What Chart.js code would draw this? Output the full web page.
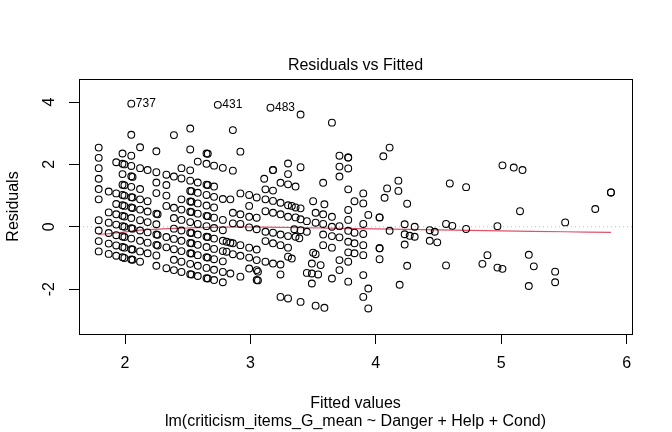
<!DOCTYPE html>
<html>
<head>
<meta charset="utf-8">
<script src="https://cdn.jsdelivr.net/npm/chart.js@4"></script>
<style>
  html, body { margin: 0; padding: 0; background: #fff; }
  #chart { display: block; }
</style>
</head>
<body>
<canvas id="chart" width="672" height="432"></canvas>
<script>
// fitted value of each column of points, and the residuals seen in that column
const colFitted = [
  1.79, 1.87, 1.93, 1.98, 1.995, 2.05, 2.06, 2.12, 2.18, 2.25, 2.26, 2.33, 2.39, 2.45,
  2.52, 2.53, 2.58, 2.65, 2.66, 2.71, 2.74, 2.78, 2.81, 2.84, 2.86, 2.92, 2.99, 3.05,
  3.06, 3.11, 3.12, 3.16, 3.18, 3.24, 3.30, 3.33, 3.35, 3.36, 3.39, 3.40, 3.45, 3.49,
  3.50, 3.52, 3.54, 3.56, 3.58, 3.59, 3.65, 3.71, 3.78, 3.83, 3.90, 3.94, 4.03, 4.06,
  4.07, 4.09, 4.11, 4.18, 4.19, 4.23, 4.25, 4.27, 4.31, 4.43, 4.47, 4.49, 4.56, 4.59,
  4.61, 4.72, 4.85, 4.89, 4.97, 5.01, 5.10, 5.15, 5.17, 5.22, 5.26, 5.43, 5.51, 5.75,
  5.875
];
const colResid = [
  [2.54, 2.21, 1.88, 1.54, 1.21, 0.88, 0.21, -0.12, -0.46, -0.79],
  [1.13, 0.46, 0.13, -0.20, -0.54, -0.87],
  [2.07, 1.07, 0.73, 0.40, 0.07, -0.27, -0.60, -0.93],
  [2.35, 2.02, 1.69, 1.35, 1.02, 0.69, 0.35, 0.02, -0.31, -0.65, -0.98],
  [2.00, 1.33, 1.00, 0.67, 0.33, 0.00, -0.33, -0.67, -1.00],
  [3.95, 2.95, 2.28, 1.95, 1.62, 1.28, 0.95, 0.62, 0.28, -0.05, -0.38, -0.72, -1.05],
  [1.60, 0.94, 0.60, -0.06, -0.73, -1.06],
  [2.55, 1.88, 1.21, 0.88, 0.55, 0.21, -0.12, -0.45, -0.79, -1.12],
  [1.82, 0.82, 0.49, 0.15, -0.18, -0.51, -0.85],
  [2.42, 1.75, 1.42, 1.08, 0.42, 0.08, -0.25, -0.58, -0.92, -1.25],
  [0.40, -0.26, -0.60],
  [1.67, 1.34, 1.00, 0.67, -0.33, -0.66, -1.33],
  [2.94, 1.61, 0.61, 0.28, -0.06, -0.39, -0.72, -1.06, -1.39],
  [1.88, 1.55, 0.88, 0.55, 0.22, -0.12, -0.45, -0.78, -1.12, -1.45],
  [3.15, 2.48, 1.81, 1.48, 1.15, 0.81, 0.48, 0.15, -0.19, -0.52, -0.85, -1.19, -1.52],
  [1.14, 0.80, 0.47, -0.20, -0.53, -0.86, -1.53],
  [2.09, 1.42, 1.09, 0.75, 0.42, 0.09, -0.25, -0.58, -0.91, -1.25, -1.58],
  [2.35, 2.02, 1.35, 1.02, 0.68, 0.35, 0.02, -0.32, -0.65, -0.98, -1.32, -1.65],
  [2.34, 1.34, 0.34, -0.33, -0.99, -1.66],
  [1.96, 1.29, 0.96, 0.62, 0.29, -0.04, -0.38, -0.71, -1.04, -1.38, -1.71],
  [3.91],
  [1.89, 0.89, 0.22, -0.11, -0.45, -0.78, -1.11, -1.45, -1.78],
  [-0.48, -0.80],
  [0.88, -0.51, -1.50],
  [3.10, 1.80, 0.45, 0.11, -0.53, -0.88],
  [2.41, 1.07, 0.40, 0.09, -0.59, -0.93, -1.60],
  [1.02, 0.67, 0.32, -0.02, -0.67, -0.99, -1.34],
  [0.94, 0.29, -0.08, -0.73, -1.07, -1.39, -1.71],
  [-1.44, -1.72],
  [1.54],
  [1.20, 0.88, 0.50, -0.16, -0.46, -1.12],
  [3.82],
  [1.82, 1.82, 1.16, 0.83, 0.45, -0.19, -0.53, -1.18],
  [1.41, 0.77, 0.40, -0.25, -0.59, -1.21, -1.53, -2.25],
  [2.03, 1.69, 1.36, 0.69, 0.32, -0.30, -0.67, -0.96, -2.30],
  [0.67, -1.02],
  [-0.08],
  [1.29, 0.62, 0.30, -0.32],
  [-0.37],
  [3.60, 1.91, 0.59, 0.24, -0.11, -2.41],
  [0.18, -0.16, -1.48],
  [-1.18, -1.50, -1.82],
  [0.82, -0.83],
  [0.45, 0.13, -0.88, -2.53],
  [-1.53],
  [-1.23],
  [1.41, 0.40, 0.09, -0.25, -0.59],
  [-2.60, 0.72],
  [3.34, 0.32, 0.00, -0.30, -0.67, -1.66],
  [2.28, 1.93, 1.61, 0.02, -0.34, -1.07, -1.39],
  [2.22, 2.22, 1.87, 1.20, 0.54, 0.22, -0.13, -0.48, -0.82, -1.12, -1.76],
  [0.82, -0.19, -0.53, -0.85],
  [1.07, 0.75, 0.09, -0.23, -0.59, -0.91, -1.55, -2.25],
  [0.38, -1.98, -2.62],
  [0.30, 0.30, -0.69, -0.69, -1.04],
  [2.26],
  [0.93],
  [1.23],
  [2.54, -0.13],
  [1.48, 1.15],
  [-1.86],
  [0.08, -0.24, -0.57],
  [0.74, -1.25],
  [-0.29],
  [0.00, -0.32],
  [-0.11, -0.45],
  [-0.16],
  [-0.50],
  [0.09, -1.24],
  [1.39],
  [0.03],
  [1.27, -0.07],
  [-1.19],
  [-0.91],
  [0.02, -1.31],
  [1.97, -1.35],
  [1.90],
  [0.50],
  [1.82],
  [-0.90, -1.90],
  [-1.27],
  [-1.44, -1.78],
  [0.14],
  [0.57],
  [1.10, 1.10]
];

// red smoother
const smoothFitted = [1.79, 1.95, 2.12, 2.3, 2.5, 2.8, 3.1, 3.4, 3.7, 4.0, 4.5, 5.0, 5.5, 5.875];
const smoothResid = [-0.25, -0.19, -0.11, -0.07, -0.04, -0.01, -0.01, -0.03, -0.05, -0.07, -0.10, -0.13, -0.16, -0.18];

// labelled extreme points
const idText = ["737", "431", "483"];
const idFitted = [2.05, 2.74, 3.16];
const idResid = [3.95, 3.91, 3.82];

const xTicks = [2, 3, 4, 5, 6];
const yTicks = [-2, 0, 2, 4];
const xRange = [1.633, 6.043];
const yRange = [-3.44, 4.74];

const title = "Residuals vs Fitted";
const xTitle = "Fitted values";
const subTitle = "lm(criticism_items_G_mean ~ Danger + Help + Cond)";
const yTitle = "Residuals";

const FONT = '"Liberation Sans", Arial, Helvetica, sans-serif';

const points = colFitted.flatMap((x, i) => colResid[i].map(r => ({ x: x, y: r })));
const smooth = smoothFitted.map((x, i) => ({ x: x, y: smoothResid[i] }));
const zeroLine = xRange.map(x => ({ x: x, y: 0 }));

const rPlot = {
  id: "rPlot",
  afterDraw(chart) {
    const { ctx, chartArea: a, scales } = chart;
    const xs = scales.x, ys = scales.y;
    ctx.save();
    // box
    ctx.strokeStyle = "#000";
    ctx.lineWidth = 1;
    ctx.strokeRect(a.left + 0.5, a.top + 0.5, a.right - a.left, a.bottom - a.top);
    ctx.fillStyle = "#000";
    ctx.font = "16px " + FONT;
    ctx.textAlign = "center";
    ctx.textBaseline = "middle";
    // x tick labels
    xTicks.forEach(v => ctx.fillText(String(v), xs.getPixelForValue(v), 364));
    // y tick labels, rotated like R
    yTicks.forEach(v => {
      ctx.save();
      ctx.translate(50, ys.getPixelForValue(v));
      ctx.rotate(-Math.PI / 2);
      ctx.fillText(String(v), 0, 0);
      ctx.restore();
    });
    const cx = (a.left + a.right) / 2;
    ctx.fillText(title, cx, 66);
    ctx.fillText(xTitle, cx, 404);
    ctx.fillText(subTitle, cx, 422);
    ctx.save();
    ctx.translate(14, (a.top + a.bottom) / 2);
    ctx.rotate(-Math.PI / 2);
    ctx.fillText(yTitle, 0, 0);
    ctx.restore();
    // id labels
    ctx.font = "12px " + FONT;
    ctx.textAlign = "left";
    idText.forEach((t, i) => {
      ctx.fillText(t, xs.getPixelForValue(idFitted[i]) + 4.5, ys.getPixelForValue(idResid[i]));
    });
    ctx.restore();
  }
};

new Chart(document.getElementById("chart"), {
  type: "scatter",
  data: {
    datasets: [
      {
        data: points,
        pointStyle: "circle",
        pointRadius: 3.4,
        pointBorderWidth: 1.1,
        pointBorderColor: "#000",
        pointBackgroundColor: "rgba(0,0,0,0)",
        showLine: false
      },
      {
        type: "line",
        data: smooth,
        borderColor: "#DF536B",
        borderWidth: 1.2,
        pointRadius: 0,
        tension: 0.3,
        fill: false
      },
      {
        type: "line",
        data: zeroLine,
        borderColor: "#BEBEBE",
        borderWidth: 1,
        borderDash: [1, 3],
        pointRadius: 0,
        fill: false
      }
    ]
  },
  options: {
    responsive: false,
    animation: false,
    devicePixelRatio: 1,
    layout: { padding: { top: 79, right: 40, left: 0, bottom: 0 } },
    plugins: { legend: { display: false }, tooltip: { enabled: false }, title: { display: false } },
    scales: {
      x: {
        type: "linear",
        min: xRange[0],
        max: xRange[1],
        afterBuildTicks: s => { s.ticks = xTicks.map(v => ({ value: v })); },
        afterFit: s => { s.height = 98; },
        ticks: { display: false },
        border: { display: false },
        grid: { drawOnChartArea: false, drawTicks: true, tickLength: 10, color: "#000", lineWidth: 1 }
      },
      y: {
        type: "linear",
        min: yRange[0],
        max: yRange[1],
        afterBuildTicks: s => { s.ticks = yTicks.map(v => ({ value: v })); },
        afterFit: s => { s.width = 79; },
        ticks: { display: false },
        border: { display: false },
        grid: { drawOnChartArea: false, drawTicks: true, tickLength: 10, color: "#000", lineWidth: 1 }
      }
    }
  },
  plugins: [rPlot]
});
</script>
</body>
</html>
